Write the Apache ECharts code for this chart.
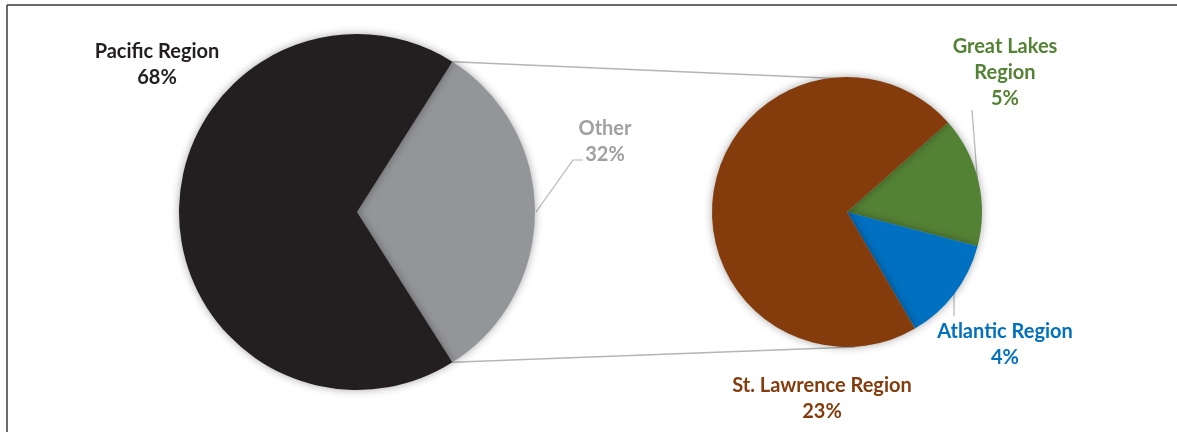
<!DOCTYPE html>
<html>
<head>
<meta charset="utf-8">
<script src="https://cdn.jsdelivr.net/npm/echarts@6/dist/echarts.min.js"></script>
<style>html,body{margin:0;padding:0;background:#fff;}#c{width:1177px;height:432px;}</style>
</head>
<body>
<div id="c"></div>
<script>
// ---- data ----
const mainNames = ['Other', 'Pacific Region'];
const mainValues = [32, 68];
const mainColors = ['#939598', '#231f20'];
const mainLabelColors = ['#a0a0a3', '#231f20'];

const subNames = ['Great Lakes\nRegion', 'Atlantic Region', 'St. Lawrence Region'];
const subValues = [5, 4, 23];
const subColors = ['#548235', '#0070c0', '#843c0c'];

// ---- layout ----
const C1 = [357, 212], R1 = 178;
const C2 = [847, 212], R2 = 135;
const start1 = (mainValues[0] / (mainValues[0] + mainValues[1])) * 180; // Other centred on 3 o'clock
const start2 = 41.5;

const mainLabelPos = [[605, 142], [157, 65]];
const subLabelPos = [[1005, 73], [1005, 345], [822, 399]];

const font = 'Lato, "Open Sans", sans-serif';
function pt(c, r, degCCW) {
  const a = degCCW * Math.PI / 180;
  return [c[0] + r * Math.cos(a), c[1] - r * Math.sin(a)];
}
const topL = pt(C1, R1, start1);
const botL = pt(C1, R1, -start1);
const lineStyle = { stroke: '#b4b5b8', lineWidth: 1.5 };
const leader = { stroke: '#b4b5b8', lineWidth: 1.2 };

const chart = echarts.init(document.getElementById('c'), null, { renderer: 'canvas' });
const shadow = { shadowBlur: 8, shadowColor: 'rgba(0,0,0,0.35)', shadowOffsetX: 0, shadowOffsetY: 0 };

const labelBase = {
  show: true,
  position: 'outside',
  overflow: 'none',
  fontFamily: font,
  fontWeight: 'bold',
  fontSize: 20,
  lineHeight: 26,
  align: 'center',
  formatter: p => p.name + '\n' + p.value + '%'
};

chart.setOption({
  animation: false,
  backgroundColor: '#ffffff',
  graphic: [
    { type: 'line', z: 100, shape: { x1: 7, y1: 5, x2: 1177, y2: 5 }, style: { stroke: '#3a3a3a', lineWidth: 1.5 } },
    { type: 'line', z: 100, shape: { x1: 7, y1: 5, x2: 7, y2: 432 }, style: { stroke: '#3a3a3a', lineWidth: 1.5 } },
    { type: 'line', z: 0, shape: { x1: topL[0], y1: topL[1], x2: C2[0] + 2, y2: C2[1] - R2 + 2 }, style: lineStyle },
    { type: 'line', z: 0, shape: { x1: botL[0], y1: botL[1], x2: C2[0] + 8, y2: C2[1] + R2 }, style: lineStyle },
    { type: 'polyline', z: 0, shape: { points: [pt(C1, R1 + 1, 0), [573, 160], [583, 160]] }, style: Object.assign({ fill: null }, leader) },
    { type: 'polyline', z: 0, shape: { points: [pt(C2, R2 - 1, 13), [972, 110]] }, style: Object.assign({ fill: null }, leader) },
    { type: 'polyline', z: 0, shape: { points: [[954, 290], [954, 316]] }, style: Object.assign({ fill: null }, leader) }
  ],
  series: [
    {
      type: 'pie',
      center: C1,
      radius: [0, R1],
      startAngle: start1,
      clockwise: true,
      z: 2,
      itemStyle: Object.assign({ borderWidth: 0 }, shadow),
      labelLine: { show: false },
      label: labelBase,
      labelLayout: p => ({ x: mainLabelPos[p.dataIndex][0], y: mainLabelPos[p.dataIndex][1], align: 'center', verticalAlign: 'middle' }),
      data: mainNames.map((n, i) => ({
        name: n, value: mainValues[i],
        itemStyle: { color: mainColors[i] },
        label: { color: mainLabelColors[i] }
      }))
    },
    {
      type: 'pie',
      center: C2,
      radius: [0, R2],
      startAngle: start2,
      clockwise: true,
      z: 2,
      itemStyle: Object.assign({ borderWidth: 0 }, shadow),
      labelLine: { show: false },
      label: labelBase,
      labelLayout: p => ({ x: subLabelPos[p.dataIndex][0], y: subLabelPos[p.dataIndex][1], align: 'center', verticalAlign: 'middle' }),
      data: subNames.map((n, i) => ({
        name: n, value: subValues[i],
        itemStyle: { color: subColors[i] },
        label: { color: subColors[i] }
      }))
    }
  ]
});
</script>
</body>
</html>
